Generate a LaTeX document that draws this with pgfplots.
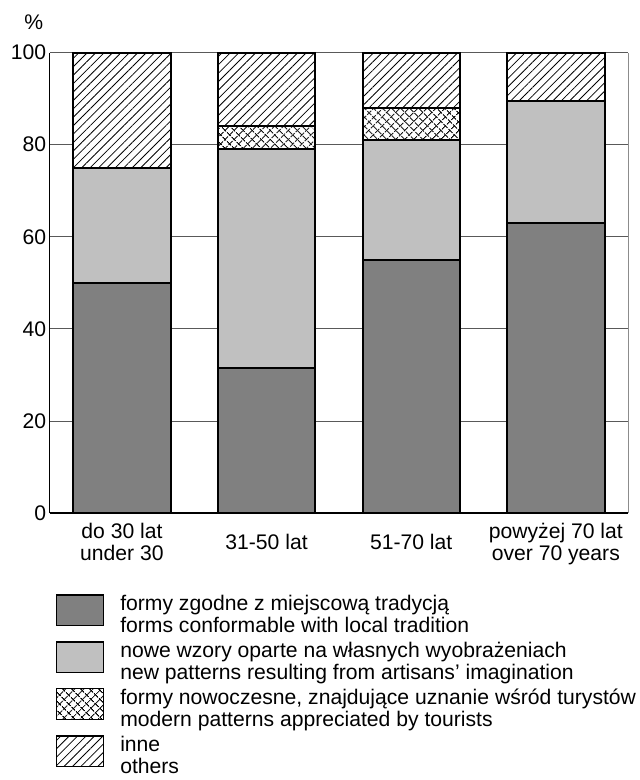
\documentclass[border=0pt]{standalone}
\usepackage{fontspec}
\setmainfont{Liberation Sans}
\usepackage{pgfplots}
\pgfplotsset{compat=1.18}
\usetikzlibrary{patterns.meta}

\definecolor{darkbar}{HTML}{808080}
\definecolor{lightbar}{HTML}{C0C0C0}
\newcommand{\chartfont}{\fontsize{21.3}{20}\selectfont}

\begin{document}
\begin{tikzpicture}[font=\chartfont]
\path[use as bounding box] (-50pt,-269pt) rectangle (594pt,517pt);
\begin{axis}[
    name=ax, at={(0,0)}, anchor=south west,
    scale only axis, width=583pt, height=464pt,
    ybar stacked, bar width=0.673,
    xmin=-0.5, xmax=3.5, ymin=0, ymax=100,
    xtick={0,1,2,3}, ytick={0,20,...,100},
    xticklabels={
        {\strut do 30 lat\\\strut under 30},
        {\strut 31-50 lat},
        {\strut 51-70 lat},
        {\strut powyżej 70 lat\\\strut over 70 years}},
    axis x line*=bottom, axis y line*=left,
    axis line style={black, line width=1.2pt},
    tick style={draw=none},
    ymajorgrids, grid style={black!65, line width=0.8pt},
    tick label style={font=\chartfont},
    /pgf/number format/assume math mode=true,
    xticklabel style={align=center, anchor=center, yshift=-32pt},
    legend cell align=left,
    legend image code/.code={\draw[#1, line width=1.2pt] (0pt,-11pt) rectangle (48pt,20pt);},
    legend style={at={(0,0)}, anchor=north west, xshift=6pt, yshift=-82pt,
        draw=none, fill=none, inner sep=0pt, outer sep=0pt,
        row sep=7pt, column sep=16pt, font=\chartfont,
        nodes={inner sep=0pt, align=left}},
]
\addplot[fill=darkbar, draw=black, line width=2pt]
    coordinates {(0,50) (1,31.5) (2,55) (3,63)};
\addlegendentry{\strut formy zgodne z miejscową tradycją\\\strut forms conformable with local tradition}
\addplot[fill=lightbar, draw=black, line width=2pt]
    coordinates {(0,25) (1,47.5) (2,26) (3,26.5)};
\addlegendentry{\strut nowe wzory oparte na własnych wyobrażeniach\\\strut new patterns resulting from artisans' imagination}
\addplot[fill=white, draw=black, line width=2pt,
    postaction={pattern={Lines[angle=45, distance=6.5pt, line width=1.1pt]}},
    postaction={pattern={Lines[angle=-45, distance=6.5pt, line width=1.1pt]}}]
    coordinates {(0,0) (1,5) (2,7) (3,0)};
\addlegendentry{\strut formy nowoczesne, znajdujące uznanie wśród turystów\\\strut modern patterns appreciated by tourists}
\addplot[fill=white, draw=black, line width=2pt,
    postaction={pattern={Lines[angle=45, distance=6pt, line width=0.8pt]}}]
    coordinates {(0,25) (1,16) (2,12) (3,10.5)};
\addlegendentry{\strut inne\\\strut others}
\end{axis}
\draw[black!45, line width=1pt] (ax.south east) -- (ax.north east);
\node at ([xshift=-16pt, yshift=30.5pt]ax.north west) {\%};
\end{tikzpicture}
\end{document}
